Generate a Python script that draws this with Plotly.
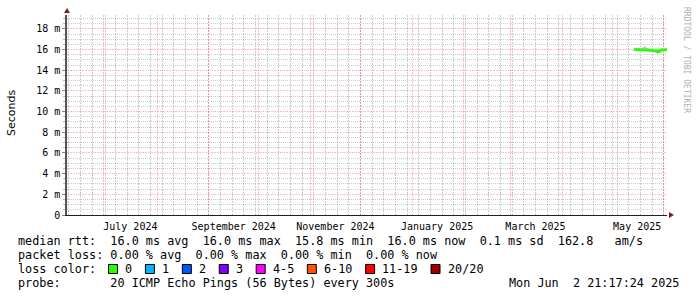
import plotly.graph_objects as go

# ---------------- data ----------------
times = ["2025-05-14", "2025-05-15", "2025-05-16", "2025-05-17", "2025-05-18",
         "2025-05-19", "2025-05-20", "2025-05-21", "2025-05-22", "2025-05-23",
         "2025-05-24", "2025-05-25", "2025-05-26", "2025-05-27", "2025-05-28",
         "2025-05-29", "2025-05-30", "2025-05-31", "2025-06-01", "2025-06-02 21:15"]
median_s = [0.01602, 0.01601, 0.01600, 0.01601, 0.01600, 0.01600, 0.01600, 0.01599,
            0.01597, 0.01595, 0.01593, 0.01592, 0.01590, 0.01589, 0.01580, 0.01590,
            0.01596, 0.01599, 0.01600, 0.01600]
smoke_lo = [0.01585, 0.01584, 0.01583, 0.01584, 0.01582, 0.01581, 0.01582, 0.01580,
            0.01578, 0.01575, 0.01572, 0.01570, 0.01568, 0.01566, 0.01560, 0.01568,
            0.01576, 0.01580, 0.01582, 0.01582]
smoke_hi = [0.01618, 0.01616, 0.01615, 0.01617, 0.01616, 0.01628, 0.01640, 0.01622,
            0.01615, 0.01612, 0.01610, 0.01608, 0.01606, 0.01604, 0.01600, 0.01606,
            0.01612, 0.01615, 0.01617, 0.01616]
inner_lo = [0.01593, 0.01592, 0.01591, 0.01592, 0.01591, 0.01590, 0.01591, 0.01590,
            0.01588, 0.01585, 0.01582, 0.01580, 0.01578, 0.01576, 0.01570, 0.01578,
            0.01586, 0.01590, 0.01592, 0.01591]
inner_hi = [0.01611, 0.01610, 0.01609, 0.01610, 0.01609, 0.01618, 0.01630, 0.01610,
            0.01606, 0.01603, 0.01600, 0.01598, 0.01596, 0.01594, 0.01588, 0.01596,
            0.01604, 0.01608, 0.01610, 0.01609]

x_start = "2024-06-08 00:00:00"
x_end = "2025-06-02 21:17:24"
month_starts = ["2024-07-01", "2024-08-01", "2024-09-01", "2024-10-01", "2024-11-01",
                "2024-12-01", "2025-01-01", "2025-02-01", "2025-03-01", "2025-04-01",
                "2025-05-01", "2025-06-01"]
label_dates = ["2024-07-16", "2024-09-16", "2024-11-16", "2025-01-16", "2025-03-16", "2025-05-16"]
label_text = ["July 2024", "September 2024", "November 2024", "January 2025", "March 2025", "May 2025"]
y_ticks = [0, 0.002, 0.004, 0.006, 0.008, 0.010, 0.012, 0.014, 0.016, 0.018]
y_text = ["0", "2 m", "4 m", "6 m", "8 m", "10 m", "12 m", "14 m", "16 m", "18 m"]
y_minor = [0.0005, 0.0010, 0.0015, 0.0025, 0.0030, 0.0035, 0.0045, 0.0050, 0.0055,
           0.0065, 0.0070, 0.0075, 0.0085, 0.0090, 0.0095, 0.0105, 0.0110, 0.0115,
           0.0125, 0.0130, 0.0135, 0.0145, 0.0150, 0.0155, 0.0165, 0.0170, 0.0175,
           0.0185, 0.0190]

legend_rows = [
    "median rtt:  16.0 ms avg  16.0 ms max  15.8 ms min  16.0 ms now  0.1 ms sd  162.8   am/s",
    "packet loss: 0.00 % avg  0.00 % max  0.00 % min  0.00 % now",
    "loss color:",
    "probe:       20 ICMP Echo Pings (56 Bytes) every 300s",
]
loss_labels = ["0", "1", "2", "3", "4-5", "6-10", "11-19", "20/20"]
loss_colors = ["#26ff00", "#00b8ff", "#0059ff", "#7e00ff", "#ff00ff", "#ff5500", "#ff0000", "#a10000"]
stamp = "Mon Jun  2 21:17:24 2025"

# ---------------- geometry ----------------
W, H = 697, 297
L, R, T, B = 67, 667, 15, 215


def px(x):
    return (x - L) / (R - L)


def py(y):
    return (B - y) / (B - T)


MONO = "DejaVu Sans Mono"
nb = lambda s: s.replace(" ", "\u00a0")

fig = go.Figure()
# smoke
fig.add_trace(go.Scatter(x=times, y=smoke_lo, mode="lines", line=dict(width=0, shape="hv"),
                         showlegend=False, hoverinfo="skip"))
fig.add_trace(go.Scatter(x=times, y=smoke_hi, mode="lines", line=dict(width=0, shape="hv"),
                         fill="tonexty", fillcolor="#dedede", showlegend=False, hoverinfo="skip"))
fig.add_trace(go.Scatter(x=times, y=inner_lo, mode="lines", line=dict(width=0, shape="hv"),
                         showlegend=False, hoverinfo="skip"))
fig.add_trace(go.Scatter(x=times, y=inner_hi, mode="lines", line=dict(width=0, shape="hv"),
                         fill="tonexty", fillcolor="#c4c4c4", showlegend=False, hoverinfo="skip"))
# median line
fig.add_trace(go.Scatter(x=times, y=median_s, mode="lines",
                         line=dict(color=loss_colors[0], width=2.5, shape="hv"),
                         showlegend=False))
# carrier for the month-label axis (no visible marks)
fig.add_trace(go.Scatter(x=label_dates, y=[None] * len(label_dates), xaxis="x2", mode="markers",
                         marker=dict(opacity=0), showlegend=False, hoverinfo="skip"))

grid_minor = "rgba(143,143,143,0.45)"
grid_major = "rgba(235,70,70,0.33)"

fig.update_layout(
    width=W, height=H,
    margin=dict(l=L, r=W - R, t=T, b=H - B, pad=0),
    paper_bgcolor="white", plot_bgcolor="white",
    showlegend=False,
    xaxis=dict(
        type="date", range=[x_start, x_end],
        tickmode="array", tickvals=month_starts, ticktext=[""] * len(month_starts),
        showgrid=True, gridcolor=grid_major, griddash="2px,1px", gridwidth=1,
        showline=True, linecolor="#1f1f1f", linewidth=1,
        ticks="", zeroline=False,
        minor=dict(tickmode="linear", dtick=7 * 86400000, tick0="2024-06-09", showgrid=True,
                   gridcolor=grid_minor, griddash="2px,1px", gridwidth=1, ticks=""),
    ),
    xaxis2=dict(
        type="date", overlaying="x", matches="x", anchor="y", side="bottom",
        tickmode="array", tickvals=label_dates, ticktext=label_text,
        showgrid=False, showline=False, ticks="", zeroline=False, ticklabelstandoff=4,
        tickfont=dict(family=MONO, size=10, color="#000"),
    ),
    yaxis=dict(
        range=[0, 0.01935],
        tickmode="array", tickvals=y_ticks, ticktext=y_text,
        showgrid=True, gridcolor=grid_major, griddash="2px,1px", gridwidth=1,
        showline=True, linecolor="#555", linewidth=1.5,
        ticks="outside", ticklen=3, tickcolor="#888", zeroline=False,
        tickfont=dict(family=MONO, size=10, color="#000"),
        minor=dict(tickmode="array", tickvals=y_minor,
                   showgrid=True, gridcolor=grid_minor,
                   griddash="1px,1px", gridwidth=1, ticks="outside", ticklen=2, tickcolor="#bbb"),
    ),
)

shapes = []
# arrows
shapes.append(dict(type="path", xref="paper", yref="paper",
                   path=f"M {px(669)},{py(212)} L {px(674)},{py(215)} L {px(669)},{py(218)} Z",
                   fillcolor="#801f1f", line=dict(width=0)))
shapes.append(dict(type="path", xref="paper", yref="paper",
                   path=f"M {px(64)},{py(13)} L {px(67)},{py(8)} L {px(70)},{py(13)} Z",
                   fillcolor="#801f1f", line=dict(width=0)))

annotations = []
row_y = [241, 255, 269, 283]
for i, txt in enumerate(legend_rows):
    annotations.append(dict(text=nb(txt), x=px(16), y=py(row_y[i]), xref="paper", yref="paper",
                            xanchor="left", yanchor="middle", showarrow=False,
                            font=dict(family=MONO, size=11.8, color="#000")))
annotations.append(dict(text=nb(stamp), x=px(681), y=py(row_y[3]), xref="paper", yref="paper",
                        xanchor="right", yanchor="middle", showarrow=False,
                        font=dict(family=MONO, size=11.8, color="#000")))
# loss colour boxes
cw = 7.12
bx = 108.5
for lab, col in zip(loss_labels, loss_colors):
    shapes.append(dict(type="rect", xref="paper", yref="paper",
                       x0=px(bx), x1=px(bx + 9), y0=py(row_y[2] - 4.5), y1=py(row_y[2] + 4.5),
                       fillcolor=col, line=dict(color="#000", width=1)))
    lx = bx + 14.5
    annotations.append(dict(text=nb(lab), x=px(lx), y=py(row_y[2]), xref="paper", yref="paper",
                            xanchor="left", yanchor="middle", showarrow=False,
                            font=dict(family=MONO, size=11.8, color="#000")))
    bx = lx + len(lab) * cw + 15.3

annotations.append(dict(text="Seconds", x=px(11), y=py(113), xref="paper", yref="paper",
                        xanchor="center", yanchor="middle", textangle=-90, showarrow=False,
                        font=dict(family="DejaVu Sans", size=11, color="#000")))
annotations.append(dict(text=nb("RRDTOOL / TOBI OETIKER"), x=px(686), y=py(60), xref="paper", yref="paper",
                        xanchor="center", yanchor="middle", textangle=90, showarrow=False,
                        font=dict(family=MONO, size=8, color="#b0b0b0")))

fig.update_layout(shapes=shapes, annotations=annotations)
fig.write_html("out.html")
